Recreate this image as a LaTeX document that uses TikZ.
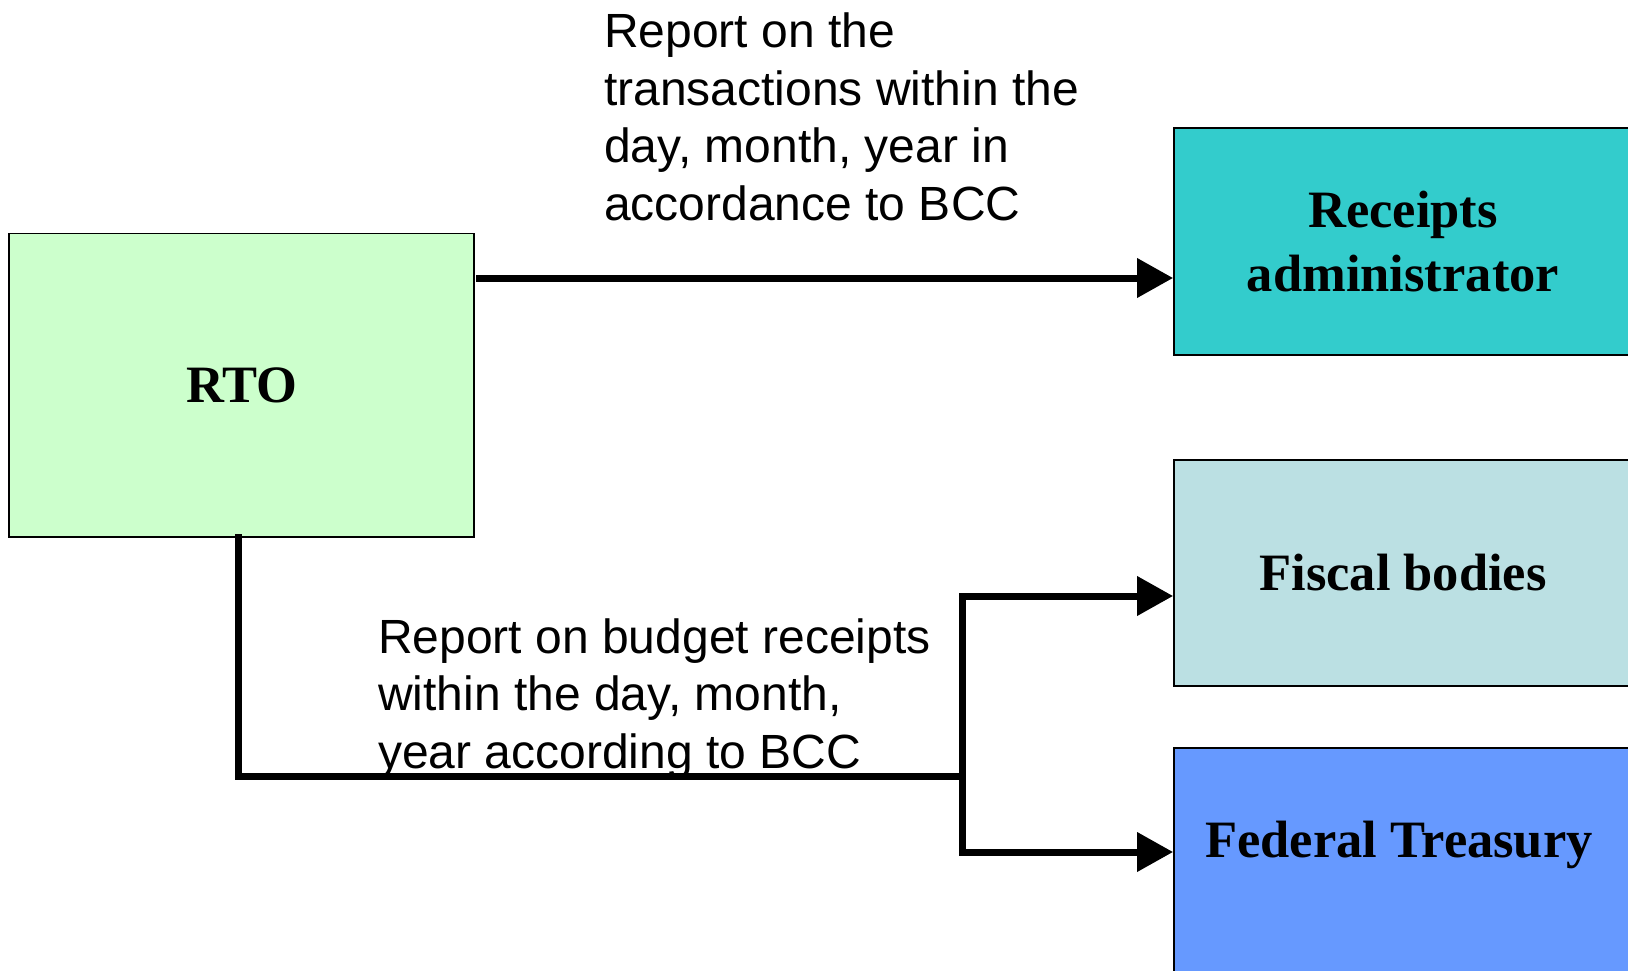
\documentclass[tikz,border=0pt]{standalone}
\usepackage{fontspec}
\setmainfont{Liberation Serif}
\newfontfamily\arialf{Liberation Sans}
\usetikzlibrary{arrows.meta}
\definecolor{rtoc}{HTML}{CCFFCC}
\definecolor{rac}{HTML}{33CCCC}
\definecolor{fbc}{HTML}{BBE0E3}
\definecolor{ftc}{HTML}{6699FF}
\tikzset{
  box/.style={draw=black, line width=1.8pt, inner sep=0pt, align=center,
    font=\fontsize{52.5}{64}\selectfont\bfseries},
  conn/.style={line width=7pt, line cap=rect, line join=miter},
  arr/.style={conn, -{Triangle[length=36pt,width=38pt]}},
  lbl/.style={inner sep=0pt, align=left, anchor=base west,
    font=\arialf\fontsize{48}{57.5}\selectfont}
}
\begin{document}
\begin{tikzpicture}[x=1pt,y=-1pt]
\useasboundingbox (0,0) rectangle (1628,971);
\node[box, fill=rtoc, minimum width=465pt, minimum height=303.5pt] (rto) at (241.5,385.25) {RTO};
\node[box, fill=rac, minimum width=458pt, minimum height=227pt] (ra) at (1403,241.5) {Receipts\\administrator};
\node[box, fill=fbc, minimum width=458pt, minimum height=226pt] (fb) at (1403,573) {Fiscal bodies};
\node[box, fill=ftc, minimum width=458pt, minimum height=260pt, anchor=north] (ft) at (1403,747) {};
\node[font=\fontsize{52.5}{64}\selectfont\bfseries, inner sep=0pt] (ftt) at (1399,845) {Federal Treasury};
\node[lbl] (t1) at (604,220) {Report on the\\transactions within the\\day, month, year in\\accordance to BCC};
\node[lbl] (t2) at (378,768) {Report on budget receipts\\within the day, month,\\year according to BCC};
\coordinate (rastart) at (479,278);
\coordinate (rain) at (ra.west |- rastart);
\coordinate (j) at (962,776);
\coordinate (fbin) at ([yshift=-23pt]fb.west);
\coordinate (ftin) at (ft.west |- 0,852);
\draw[arr] (rastart) -- (rain);
\draw[conn] ([xshift=-3.5pt]rto.south) |- (j);
\draw[arr] (j) |- (fbin);
\draw[arr] (j) |- (ftin);
\end{tikzpicture}
\end{document}
